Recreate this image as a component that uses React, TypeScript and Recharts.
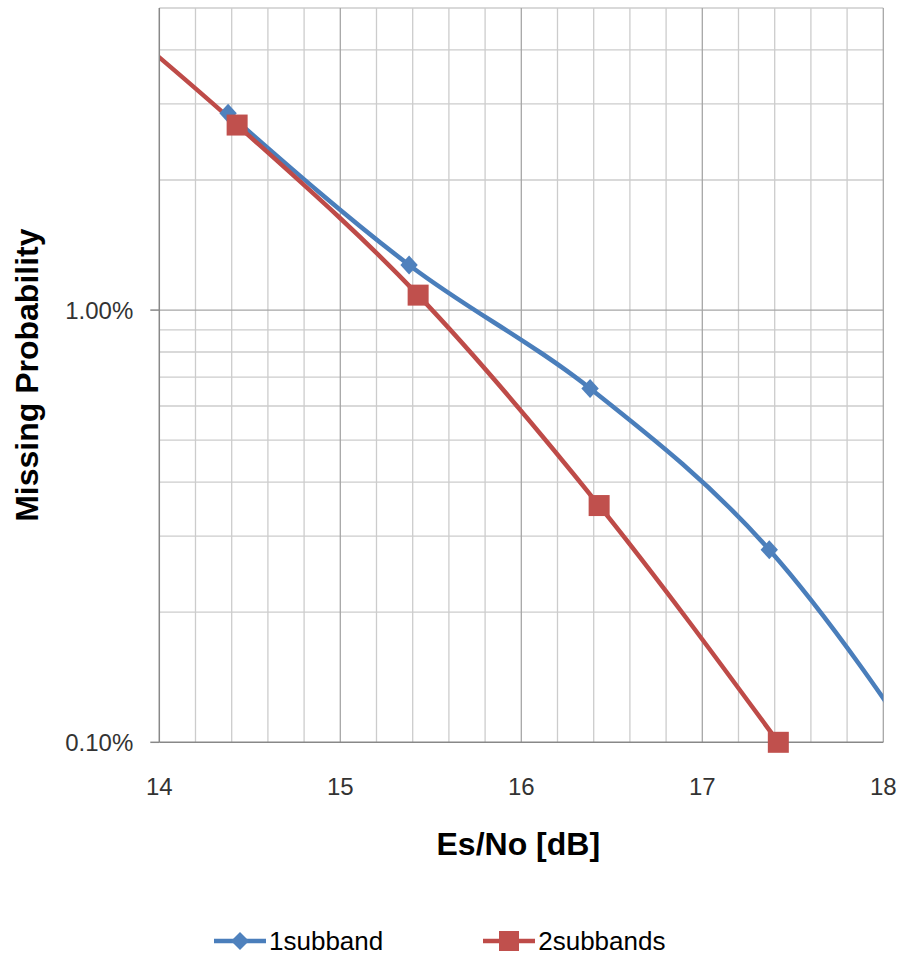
import React from "react"
import { CartesianGrid, Label, Legend, Line, LineChart, XAxis, YAxis } from "recharts"

// Es/No [dB] at each marker (first/last points sit outside the axes and get clipped)
const esNo1 = [14.38, 15.38, 16.38, 17.37, 18.38]
const missing1 = [0.02855, 0.01272, 0.00659, 0.00279, 0.00074]
const esNo2 = [13.43, 14.43, 15.43, 16.43, 17.42]
const missing2 = [0.061, 0.0268, 0.01083, 0.00353, 0.001]

const seriesNames = ["1subband", "2subbands"]
const xTicks = [14, 15, 16, 17, 18]
const yTicks = [0.001, 0.01]
const xMinorGrid = [14.2, 14.4, 14.6, 14.8, 15.2, 15.4, 15.6, 15.8, 16.2, 16.4, 16.6, 16.8, 17.2, 17.4, 17.6, 17.8]
const xMajorGrid = [15, 16, 17, 18]
const yMinorGrid = [0.002, 0.003, 0.004, 0.005, 0.006, 0.007, 0.008, 0.009, 0.02, 0.03, 0.04, 0.05]
const yMajorGrid = [0.01]

const X_DOMAIN: [number, number] = [14, 18]
const Y_DOMAIN: [number, number] = [0.001, 0.05]

const data1 = esNo1.map((x, i) => ({ x, y: missing1[i] }))
const data2 = esNo2.map((x, i) => ({ x, y: missing2[i] }))
// markers only for the points that fall inside the axes
const inView = (d: { x: number }) => d.x >= X_DOMAIN[0] && d.x <= X_DOMAIN[1]
const marks1 = data1.filter(inView)
const marks2 = data2.filter(inView)

const BLUE = "#4a7ebb"
const RED = "#be4b48"
const FONT = '"Liberation Sans", Arial, sans-serif'

function Diamond(props: any) {
  const { cx, cy } = props
  if (cx == null || cy == null) return null
  const h = 9.5
  const w = 8.7
  return <path d={`M${cx},${cy - h}L${cx + w},${cy}L${cx},${cy + h}L${cx - w},${cy}Z`} fill="#4f81bd" />
}

function Square(props: any) {
  const { cx, cy } = props
  if (cx == null || cy == null) return null
  const s = 10.5
  return <rect x={cx - s} y={cy - s} width={s * 2} height={s * 2} fill="#c0504d" />
}

function YTitle(props: any) {
  const vb = props.viewBox || {}
  const y = (vb.y ?? 0) + (vb.height ?? 0) / 2
  const x = 38
  return (
    <text x={x} y={y} transform={`rotate(-90 ${x} ${y})`} textAnchor="middle" fontFamily={FONT} fontWeight="bold" fontSize={32} fill="#000">
      Missing Probability
    </text>
  )
}

function XTitle(props: any) {
  const vb = props.viewBox || {}
  const x = (vb.x ?? 0) + (vb.width ?? 0) / 2 - 3
  return (
    <text x={x} y={855} textAnchor="middle" fontFamily={FONT} fontWeight="bold" fontSize={32} fill="#000">
      Es/No [dB]
    </text>
  )
}

function LegendIcon({ color, square }: { color: string; square: boolean }) {
  return (
    <svg width={52} height={24} style={{ display: "block" }}>
      <line x1={0} y1={12} x2={52} y2={12} stroke={color} strokeWidth={4.5} />
      {square ? <rect x={16} y={2} width={20} height={20} fill="#c0504d" /> : <path d="M26,3L35,12L26,21L17,12Z" fill="#4f81bd" />}
    </svg>
  )
}

function renderLegend() {
  const colors = [BLUE, RED]
  return (
    <div style={{ display: "flex", alignItems: "center", height: 26, paddingLeft: 214, fontFamily: FONT, fontSize: 26, lineHeight: "26px", color: "#000" }}>
      {seriesNames.map((name, i) => (
        <div key={name} style={{ display: "flex", alignItems: "center", marginRight: 100 }}>
          <LegendIcon color={colors[i]} square={i === 1} />
          <span style={{ marginLeft: 3 }}>{name}</span>
        </div>
      ))}
    </div>
  )
}

export default function App() {
  return (
    <div style={{ position: "absolute", left: 0, top: 0, background: "#fff" }}>
      <LineChart width={897} height={955} margin={{ top: 8, right: 13.7, left: 0, bottom: 9.3 }}>
        <CartesianGrid horizontalValues={yMinorGrid} verticalValues={xMinorGrid} stroke="#cccccc" strokeWidth={1.3} />
        <CartesianGrid horizontalValues={yMajorGrid} verticalValues={xMajorGrid} stroke="#a6a6a6" strokeWidth={1.3} />
        <XAxis
          type="number"
          dataKey="x"
          domain={X_DOMAIN}
          ticks={xTicks}
          interval={0}
          allowDataOverflow
          height={203.4}
          tickLine={false}
          tickSize={0}
          tickMargin={36}
          axisLine={{ stroke: "#888", strokeWidth: 1.5 }}
          tick={{ fontSize: 24, fill: "#333", fontFamily: FONT }}
        >
          <Label content={<XTitle />} />
        </XAxis>
        <YAxis
          type="number"
          dataKey="y"
          scale="log"
          domain={Y_DOMAIN}
          ticks={yTicks}
          interval={0}
          allowDataOverflow
          width={159.3}
          tickSize={9}
          tickMargin={17}
          tickLine={{ stroke: "#888", strokeWidth: 1.5 }}
          axisLine={{ stroke: "#888", strokeWidth: 1.5 }}
          tick={{ fontSize: 24, fill: "#333", fontFamily: FONT }}
          tickFormatter={(v: number) => `${(v * 100).toFixed(2)}%`}
        >
          <Label content={<YTitle />} />
        </YAxis>
        {/* twin axes for the markers: same scales, no clipping so edge markers show whole */}
        <XAxis xAxisId="m" type="number" dataKey="x" domain={X_DOMAIN} hide />
        <YAxis yAxisId="m" type="number" dataKey="y" scale="log" domain={Y_DOMAIN} hide width={0} />
        <Legend verticalAlign="middle" layout="horizontal" content={renderLegend} wrapperStyle={{ top: 928, left: 0, width: 897 }} />
        <Line
          data={data1}
          dataKey="y"
          name={seriesNames[0]}
          type="monotone"
          stroke={BLUE}
          strokeWidth={4.5}
          dot={false}
          activeDot={false}
          isAnimationActive={false}
        />
        <Line
          data={marks1}
          dataKey="y"
          xAxisId="m"
          yAxisId="m"
          stroke="none"
          dot={<Diamond />}
          activeDot={false}
          legendType="none"
          isAnimationActive={false}
        />
        <Line
          data={data2}
          dataKey="y"
          name={seriesNames[1]}
          type="monotone"
          stroke={RED}
          strokeWidth={4.5}
          dot={false}
          activeDot={false}
          isAnimationActive={false}
        />
        <Line
          data={marks2}
          dataKey="y"
          xAxisId="m"
          yAxisId="m"
          stroke="none"
          dot={<Square />}
          activeDot={false}
          legendType="none"
          isAnimationActive={false}
        />
      </LineChart>
    </div>
  )
}
